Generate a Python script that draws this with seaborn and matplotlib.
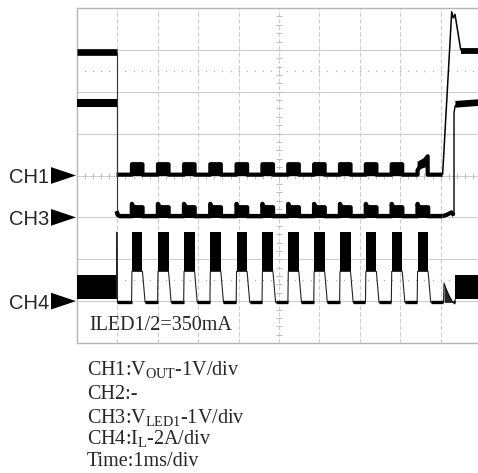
import matplotlib
matplotlib.use("Agg")
import matplotlib.pyplot as plt
import matplotlib.transforms as mtransforms
from matplotlib.patches import Polygon
import numpy as np
import pandas as pd
import seaborn as sns

# ---------------- data (screen divisions: x = 1 ms/div, y = 0..8 div from bottom) ----------------
pulse_start = [1.36, 2.005, 2.65, 3.30, 3.95, 4.59, 5.23, 5.87, 6.51, 7.15, 7.79, 8.43]
pulse_width = 0.26
step_time = 0.98
x_right = 9.93

# CH1 : VOUT
ch1_ground = 4.0
ch1_before = 6.96
ch1_base = 4.02
ch1_top = 4.27
ch1_last_x = [8.43, 8.43, 8.68, 8.68]
ch1_last_y = [4.13, 4.33, 4.46, 4.21]
ch1_end_x = [9.05, 9.275, 9.315, 9.356, 9.50]
ch1_end_y = [4.02, 7.91, 7.76, 7.85, 6.99]
ch1_after = 6.97

# CH3 : VLED1
ch3_ground = 3.0
ch3_before = 5.73
ch3_base = 3.03
ch3_top = 3.24
ch3_end_x = [9.05, 9.15, 9.27, 9.32, 9.332, 9.332, 9.36, 9.42]
ch3_end_y = [3.03, 3.06, 3.12, 3.06, 3.05, 5.50, 5.66, 5.72]
ch3_after = 5.74

# CH4 : IL
ch4_ground = 1.0
ch4_band_lo = 1.06
ch4_band_hi = 1.63
ch4_bottom = 0.97
ch4_block_lo = 1.71
ch4_block_hi = 2.65
ch4_fall = 0.066
ch4_end_x = [9.07, 9.085, 9.12, 9.20, 9.30, 9.36]
ch4_end_y = [0.97, 1.43, 1.33, 1.15, 0.97, 0.97]
ch4_resume = 9.36

channel_labels = ["CH1", "CH3", "CH4"]
channel_grounds = [ch1_ground, ch3_ground, ch4_ground]
inner_label = "ILED1/2=350mA"
caption_lines = [
    "CH1:V$_{\\mathrm{OUT}}$-1V/div",
    "CH2:-",
    "CH3:V$_{\\mathrm{LED1}}$-1V/div",
    "CH4:I$_{\\mathrm{L}}$-2A/div",
    "Time:1ms/div",
]

# ---------------- style ----------------
sns.set_style("white")
plt.rcParams["font.family"] = ["Liberation Sans", "DejaVu Sans"]
plt.rcParams["mathtext.fontset"] = "custom"
plt.rcParams["mathtext.rm"] = "Liberation Serif"
plt.rcParams["mathtext.it"] = "Liberation Serif:italic"

W, H = 478, 473
fig = plt.figure(figsize=(W / 100, H / 100), dpi=100)
ax = fig.add_axes([77 / W, 130 / H, 404 / W, 335 / H])
ax.set_xlim(0, 10)
ax.set_ylim(0, 8)
ax.set_xticks([])
ax.set_yticks([])
for s in ["left", "top", "bottom"]:
    ax.spines[s].set_color("#b4b4b4")
    ax.spines[s].set_linewidth(1.0)
ax.spines["right"].set_visible(False)

GRID = "#cdcdcd"
for yv in range(1, 8):
    ax.axhline(yv, color=GRID, lw=0.8, zorder=0)
for xv in range(1, 10):
    ax.axvline(xv, color=GRID, lw=0.8, ls=(0, (4, 2)), zorder=0)
minor = np.arange(0.2, 10, 0.2)
ax.plot(minor, np.full_like(minor, 4.0), ls="none", marker="|", ms=4, mew=0.7, color="#bdbdbd", zorder=0)
minor_y = np.arange(0.2, 8, 0.2)
ax.plot(np.full_like(minor_y, 5.0), minor_y, ls="none", marker="_", ms=4, mew=0.7, color="#bdbdbd", zorder=0)
for yv in (6.5, 1.5):
    ax.plot(minor, np.full_like(minor, yv), ls="none", marker="s", ms=0.9, mew=0, color="#b0b0b0", zorder=0)

K = "black"
THIN = 0.8


def line(xs, ys, lw, color=K, z=3):
    df = pd.DataFrame({"x": xs, "y": ys})
    sns.lineplot(data=df, x="x", y="y", sort=False, estimator=None, color=color,
                 lw=lw, ax=ax, zorder=z, legend=False, solid_capstyle="butt")


def segs(seglist, lw, color=K, z=3):
    rows = []
    for i, (xs, ys) in enumerate(seglist):
        for a, b in zip(xs, ys):
            rows.append((i, a, b))
    df = pd.DataFrame(rows, columns=["seg", "x", "y"])
    sns.lineplot(data=df, x="x", y="y", units="seg", sort=False, estimator=None,
                 color=color, lw=lw, ax=ax, zorder=z, legend=False, solid_capstyle="butt")


# ---- CH1 ----
line([0, step_time], [ch1_before, ch1_before], 4.8)
line([step_time, step_time], [ch1_before, ch1_base], THIN, color="#333333")
px, py = [step_time], [ch1_base]
for s in pulse_start[:-1]:
    px += [s, s, s + pulse_width, s + pulse_width]
    py += [ch1_base, ch1_top, ch1_top, ch1_base]
    ax.fill_between([s, s + pulse_width], ch1_base - 0.04, ch1_top + 0.03, color=K, lw=0, zorder=3)
px += [ch1_last_x[0], ch1_last_x[0], ch1_last_x[-1], ch1_last_x[-1], ch1_end_x[0]]
py += [ch1_base, ch1_last_y[0], ch1_last_y[2], ch1_base, ch1_base]
line(px, py, 3.0)
ax.add_patch(Polygon(list(zip(ch1_last_x, ch1_last_y)), closed=True, color=K, lw=0, zorder=3))
line(ch1_end_x, ch1_end_y, 1.1)
line([ch1_end_x[-1], x_right], [ch1_after, ch1_after], 4.2)

# ---- CH3 ----
line([0, step_time], [ch3_before, ch3_before], 5.8)
line([step_time, step_time], [ch3_before, ch3_base], THIN, color="#333333")
qx, qy = [step_time, step_time + 0.03, step_time + 0.08], [ch3_base + 0.12, ch3_base + 0.03, ch3_base]
for s in pulse_start:
    qx += [s, s, s + 0.03, s + pulse_width, s + pulse_width]
    qy += [ch3_base, ch3_top + 0.08, ch3_top, ch3_top, ch3_base]
    ax.fill_between([s, s + pulse_width], ch3_base - 0.04, ch3_top + 0.03, color=K, lw=0, zorder=3)
qx += [ch3_end_x[0]]
qy += [ch3_base]
line(qx, qy, 3.2)
line(ch3_end_x[:5], ch3_end_y[:5], 3.0)
line(ch3_end_x[3:], ch3_end_y[3:], 1.0)
line([ch3_end_x[-1] - 0.05, x_right], [ch3_after - 0.04, ch3_after], 4.8)

# ---- CH4 ----
ax.fill_between([0, step_time], ch4_band_lo, ch4_band_hi, color=K, lw=0, zorder=3)
tx = [step_time, step_time + 0.006, step_time + 0.02]
ty = [ch4_band_lo, ch4_block_hi, ch4_bottom]
bottoms = []
prev_end = step_time + 0.02
for s in pulse_start:
    bottoms.append(([prev_end, s - 0.01], [ch4_bottom, ch4_bottom]))
    tx += [s - 0.01, s, s + pulse_width, s + pulse_width + ch4_fall]
    ty += [ch4_bottom, ch4_block_lo, ch4_block_lo, ch4_bottom]
    ax.fill_between([s, s + pulse_width], ch4_block_lo, ch4_block_hi, color=K, lw=0, zorder=3)
    prev_end = s + pulse_width + ch4_fall
bottoms.append(([prev_end, ch4_end_x[0]], [ch4_bottom, ch4_bottom]))
bottoms.append(([ch4_end_x[-2], ch4_resume], [ch4_bottom, ch4_bottom]))
tx += ch4_end_x + [ch4_resume]
ty += ch4_end_y + [ch4_band_lo]
line(tx, ty, THIN, color="#222222")
segs(bottoms, 2.4)
ax.fill_between(ch4_end_x[1:5], ch4_bottom, ch4_end_y[1:5], color=K, lw=0, zorder=3, alpha=0.85)
ax.fill_between([ch4_resume, x_right], ch4_band_lo, ch4_band_hi, color=K, lw=0, zorder=3)

ax.set_xlabel("")
ax.set_ylabel("")

# ---- inner label ----
ax.text(0.30, 0.31, inner_label, family="Liberation Serif", fontsize=14.5, va="baseline", ha="left", zorder=5)

# ---- channel markers ----
tr = mtransforms.blended_transform_factory(fig.transFigure, ax.transData)
tri_h = 0.2
for lab, g in zip(channel_labels, channel_grounds):
    ax.add_patch(Polygon([(51 / W, g + tri_h), (51 / W, g - tri_h), (76 / W, g)], closed=True,
                         color=K, lw=0, transform=tr, clip_on=False))
    fig.text(49.5 / W, g, lab, transform=tr, fontsize=14.5, ha="right", va="center_baseline",
             family=["Liberation Sans", "DejaVu Sans"])

# ---- caption ----
baselines = [375, 399, 422.7, 444.3, 466]
for txt, b in zip(caption_lines, baselines):
    fig.text(87 / W, 1 - b / H, txt, family="Liberation Serif", fontsize=14.5, va="baseline", ha="left")

fig.savefig("out.png", dpi=100)
